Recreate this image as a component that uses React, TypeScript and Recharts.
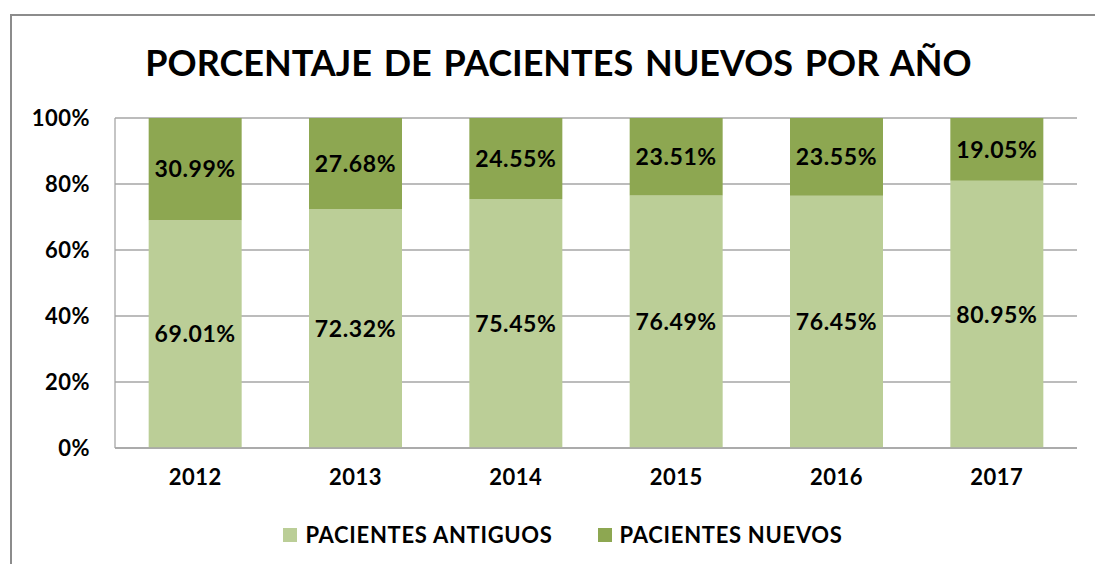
import React from 'react';
import { BarChart, Bar, XAxis, YAxis, CartesianGrid, LabelList } from 'recharts';

const years = ['2012', '2013', '2014', '2015', '2016', '2017'];
const antiguos = [69.01, 72.32, 75.45, 76.49, 76.45, 80.95];
const nuevos = [30.99, 27.68, 24.55, 23.51, 23.55, 19.05];
const yTicks = [0, 20, 40, 60, 80, 100];

const series = [
  { key: 'antiguos', name: 'PACIENTES ANTIGUOS', color: '#BBCE97' },
  { key: 'nuevos', name: 'PACIENTES NUEVOS', color: '#8DA751' },
];

const data = years.map((year, i) => ({
  year,
  antiguos: antiguos[i],
  nuevos: nuevos[i],
}));

const font = 'Lato, "Open Sans", sans-serif';

const App: React.FC = () => {
  return (
    <div
      style={{
        position: 'absolute',
        left: 0,
        top: 0,
        width: 1095,
        height: 564,
        background: '#fff',
        overflow: 'hidden',
        fontFamily: font,
      }}
    >
      <div
        style={{
          position: 'absolute',
          left: 10,
          top: 14,
          width: 1200,
          height: 700,
          border: '2px solid #8c8c8c',
        }}
      />
      <div
        style={{
          position: 'absolute',
          left: 0,
          top: 37,
          width: 1117,
          textAlign: 'center',
          fontSize: 36,
          fontWeight: 700,
          color: '#000',
          lineHeight: '50px',
          wordSpacing: 3,
        }}
      >
        PORCENTAJE DE PACIENTES NUEVOS POR AÑO
      </div>
      <div style={{ position: 'absolute', left: 0, top: 0 }}>
        <BarChart
          width={1095}
          height={564}
          data={data}
          margin={{ top: 118, right: 18, bottom: 76, left: 0 }}
          barCategoryGap="21%"
        >
          <CartesianGrid vertical={false} stroke="#a6a6a6" strokeWidth={1.3} />
          <XAxis
            dataKey="year"
            tickLine={false}
            axisLine={{ stroke: '#a6a6a6', strokeWidth: 1.3 }}
            height={40}
            tickMargin={15}
            tick={{ fill: '#000', fontSize: 22, fontWeight: 700, fontFamily: font, letterSpacing: 0.5 }}
          />
          <YAxis
            width={115}
            domain={[0, 100]}
            ticks={yTicks}
            tickFormatter={(v: number) => `${v}%`}
            tickLine={false}
            axisLine={{ stroke: '#a6a6a6', strokeWidth: 1.3 }}
            tickMargin={19}
            tick={{ fill: '#000', fontSize: 22, fontWeight: 700, fontFamily: font, letterSpacing: 0.5 }}
          />
          {series.map((s) => (
            <Bar
              key={s.key}
              dataKey={s.key}
              name={s.name}
              stackId="a"
              fill={s.color}
              isAnimationActive={false}
            >
              <LabelList
                dataKey={s.key}
                position="center"
                formatter={(v: number) => `${v.toFixed(2)}%`}
                style={{ fill: '#000', fontSize: 23, fontWeight: 700, fontFamily: font, letterSpacing: 0.6 }}
              />
            </Bar>
          ))}
        </BarChart>
      </div>
      <div
        style={{
          position: 'absolute',
          left: 0,
          top: 520,
          width: 1126,
          display: 'flex',
          justifyContent: 'center',
          alignItems: 'center',
          gap: 45,
          fontSize: 22,
          fontWeight: 700,
          color: '#000',
          letterSpacing: 0.7,
          lineHeight: '30px',
        }}
      >
        {series.map((s) => (
          <div key={s.key} style={{ display: 'flex', alignItems: 'center', gap: 8 }}>
            <span style={{ display: 'inline-block', width: 14, height: 14, background: s.color }} />
            <span>{s.name}</span>
          </div>
        ))}
      </div>
    </div>
  );
};

export default App;
